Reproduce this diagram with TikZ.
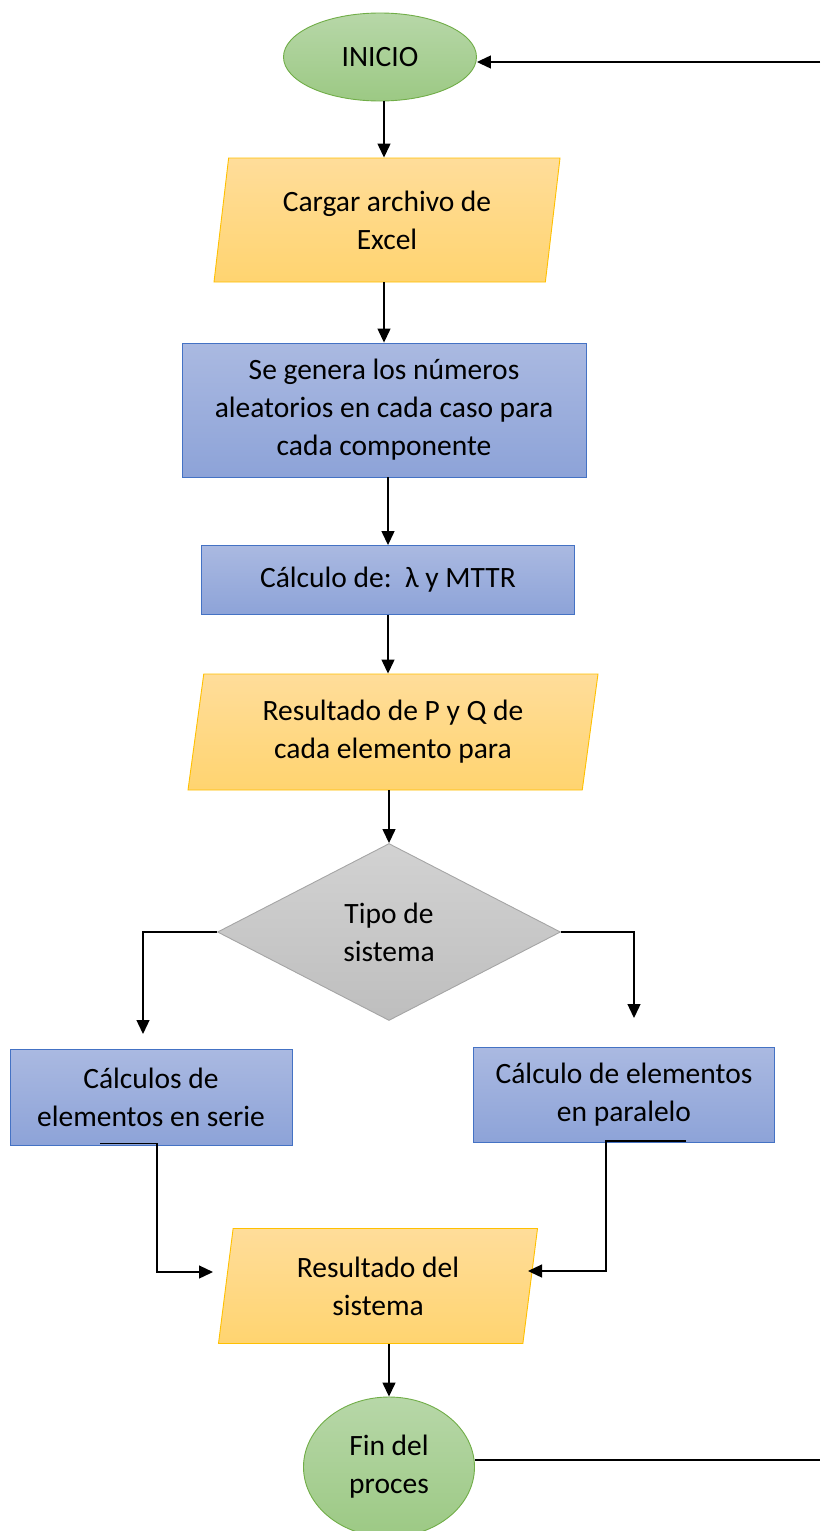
\documentclass[tikz,border=0pt]{standalone}
\usepackage{fontspec}
\setmainfont{Carlito}
\usetikzlibrary{shapes.geometric,arrows.meta}

\definecolor{verde}{HTML}{70AD47}
\definecolor{verdeA}{HTML}{B7D7A8}
\definecolor{verdeB}{HTML}{9CC984}
\definecolor{naranja}{HTML}{FFC000}
\definecolor{naranjaA}{HTML}{FFDD9A}
\definecolor{naranjaB}{HTML}{FFD470}
\definecolor{azul}{HTML}{4472C4}
\definecolor{azulA}{HTML}{AAB9E1}
\definecolor{azulB}{HTML}{8DA3D8}
\definecolor{gris}{HTML}{A5A5A5}
\definecolor{grisA}{HTML}{D2D2D2}
\definecolor{grisB}{HTML}{BEBEBE}

\begin{document}
\begin{tikzpicture}[x=1pt,y=-1pt]

\tikzset{
  Inicio/.style = { ellipse, draw=verde, line width=0.9pt,
                    top color=verdeA, bottom color=verdeB,
                    inner sep=0pt, align=center },
  Dato/.style = { trapezium, trapezium left angle=76,
                  trapezium right angle=104, trapezium stretches body,
                  draw=naranja, line width=0.9pt,
                  top color=naranjaA, bottom color=naranjaB,
                  inner sep=0pt, align=center },
  Proceso/.style = { rectangle, draw=azul, line width=0.9pt,
                     top color=azulA, bottom color=azulB,
                     inner sep=0pt, align=center },
  Decision/.style = { diamond, draw=gris, line width=0.9pt,
                      top color=grisA, bottom color=grisB,
                      inner sep=0pt, align=center },
  Flecha/.style = { -{Triangle[length=14pt,width=13pt]}, line width=1.3pt },
  every node/.append style = { font=\fontsize{29.5}{38}\selectfont } }

  \useasboundingbox (0,0) rectangle (820,1531);

  \node[Inicio, minimum width=193pt, minimum height=88pt] (inicio) at (380,57) {INICIO};
  \node[Dato, minimum width=346pt, minimum height=124pt] (excel) at (387,220) {Cargar archivo de\\Excel};
  \node[Proceso, minimum width=404pt, minimum height=134pt] (genera) at (384,410) {Se genera los números\\aleatorios en cada caso para\\cada componente};
  \node[Proceso, minimum width=373pt, minimum height=69pt] (calculo) at (388,580) {Cálculo de:\ \ λ y MTTR};
  \node[Dato, minimum width=410pt, minimum height=116pt] (pyq) at (393,732) {Resultado de P y Q de\\cada elemento para};
  \node[Decision, minimum width=343pt, minimum height=177pt] (tipo) at (389,932) {Tipo de\\sistema};

  \node[Proceso, minimum width=282pt, minimum height=96pt] (serie) at (151,1097) {Cálculos de\\elementos en serie};
  \node[Proceso, minimum width=301pt, minimum height=95pt] (paralelo) at (624,1095) {Cálculo de elementos\\en paralelo};

  \node[Dato, minimum width=319pt, minimum height=115pt] (sistema) at (378,1286) {Resultado del\\sistema};
  \node[Inicio, minimum width=171pt, minimum height=140pt] (fin) at (389,1467) {Fin del\\proces};

  \coordinate (iniR) at (820,62);
  \coordinate (finR) at (820,1460);
  \coordinate (izq) at (143,1034);
  \coordinate (der) at (634,1018);
  \coordinate (izqB) at (213,1272);
  \coordinate (derB) at (528,1271);

  \draw[Flecha] (iniR) -- (iniR -| inicio.east);
  \draw[Flecha] (genera.north |- inicio.south) -- (genera.north |- excel.north);
  \draw[Flecha] (genera.north |- excel.south) -- (genera.north);
  \draw[Flecha] (calculo.north |- genera.south) -- (calculo.north);
  \draw[Flecha] (calculo.south) -- (calculo.south |- pyq.north);
  \draw[Flecha] (tipo.north |- pyq.south) -- (tipo.north);

  \draw[Flecha] (tipo.west) -| (izq);
  \draw[Flecha] (tipo.east) -| (der);

  \draw[Flecha] ([xshift=-51pt,yshift=2pt]serie.south) -- ([xshift=6pt,yshift=2pt]serie.south) |- (izqB);
  \draw[Flecha] ([xshift=62pt,yshift=2pt]paralelo.south) -- ([xshift=-18pt,yshift=2pt]paralelo.south) |- (derB);

  \draw[Flecha] (fin.north |- sistema.south) -- (fin.north);
  \draw[line width=1.3pt] (fin.east |- finR) -- (finR);

\end{tikzpicture}
\end{document}
